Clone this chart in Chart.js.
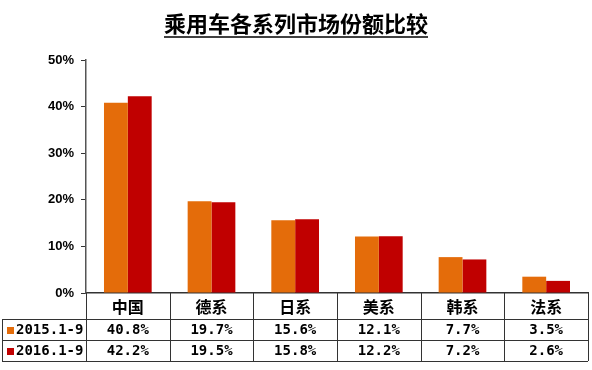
<!DOCTYPE html>
<html>
<head>
<meta charset="utf-8">
<script src="https://cdn.jsdelivr.net/npm/chart.js@4.4.1/dist/chart.umd.min.js"></script>
<style>
  body { margin: 0; background: #fff; }
</style>
</head>
<body>
<canvas id="shareChart" width="592" height="370"></canvas>
<script>
let chartTitle = "乘用车各系列市场份额比较";
let categories = ["中国", "德系", "日系", "美系", "韩系", "法系"];
let seriesNames = ["2015.1-9", "2016.1-9"];
let share2015 = [40.8, 19.7, 15.6, 12.1, 7.7, 3.5];
let share2016 = [42.2, 19.5, 15.8, 12.2, 7.2, 2.6];
let colors = ["#E46C0A", "#C00000"];

let lineColor = "#333333";

// title with underline
let titlePlugin = {
    id: "titleUnderline",
    afterDraw(chart) {
        let ctx = chart.ctx;
        ctx.save();
        ctx.font = "bold 22px 'Noto Sans CJK SC'";
        ctx.fillStyle = "#000";
        ctx.textAlign = "center";
        ctx.textBaseline = "middle";
        let cx = 296;
        ctx.fillText(chartTitle, cx, 24);
        let w = ctx.measureText(chartTitle).width;
        ctx.strokeStyle = "#000";
        ctx.lineWidth = 1.5;
        ctx.beginPath();
        ctx.moveTo(cx - w / 2, 37);
        ctx.lineTo(cx + w / 2, 37);
        ctx.stroke();
        ctx.restore();
    }
};

// data table under the plot
let tablePlugin = {
    id: "dataTable",
    afterDraw(chart) {
        let ctx = chart.ctx;
        let area = chart.chartArea;
        let xs = chart.scales.x;
        let n = categories.length;
        let colW = (area.right - area.left) / n;
        let y0 = area.bottom;
        let y1 = y0 + 26;
        let y2 = y1 + 21;
        let y3 = y2 + 21;
        let leftX = 2;

        ctx.save();
        ctx.strokeStyle = lineColor;
        ctx.lineWidth = 1;
        ctx.beginPath();
        [y1, y2, y3].forEach(function (y) {
            ctx.moveTo(leftX, y + 0.5);
            ctx.lineTo(area.right, y + 0.5);
        });
        ctx.moveTo(leftX + 0.5, y1);
        ctx.lineTo(leftX + 0.5, y3);
        for (let i = 0; i <= n; i++) {
            let x = Math.round(area.left + colW * i) + 0.5;
            ctx.moveTo(x, y0);
            ctx.lineTo(x, y3);
        }
        ctx.stroke();

        ctx.fillStyle = "#000";
        ctx.textAlign = "center";
        ctx.textBaseline = "middle";
        ctx.font = "bold 16px 'Noto Sans CJK SC'";
        categories.forEach(function (c, i) {
            ctx.fillText(c, xs.getPixelForValue(i), (y0 + y1) / 2 + 1);
        });

        let rows = [share2015, share2016];
        let rowY = [(y1 + y2) / 2 + 1, (y2 + y3) / 2 + 1];
        ctx.font = "bold 14px 'DejaVu Sans Mono', 'Noto Sans CJK SC'";
        rows.forEach(function (vals, r) {
            vals.forEach(function (v, i) {
                ctx.fillText(v.toFixed(1) + "%", xs.getPixelForValue(i), rowY[r]);
            });
            ctx.fillStyle = colors[r];
            ctx.fillRect(7, Math.round(rowY[r]) - 4, 7, 7);
            ctx.fillStyle = "#000";
            ctx.textAlign = "left";
            ctx.fillText(seriesNames[r], 16, rowY[r]);
            ctx.textAlign = "center";
        });
        ctx.restore();
    }
};

let ctx = document.getElementById("shareChart").getContext("2d");

let shareChart = new Chart(ctx, {
    type: "bar",
    data: {
        labels: categories,
        datasets: [
            { label: seriesNames[0], data: share2015, backgroundColor: colors[0] },
            { label: seriesNames[1], data: share2016, backgroundColor: colors[1] }
        ]
    },
    options: {
        responsive: false,
        animation: false,
        categoryPercentage: 0.57,
        barPercentage: 1.0,
        layout: { padding: { top: 60, bottom: 77, left: 0, right: 4 } },
        plugins: {
            legend: { display: false },
            title: { display: false },
            tooltip: { enabled: false }
        },
        scales: {
            x: {
                grid: { display: false },
                border: { display: true, color: lineColor, width: 1.5 },
                ticks: { display: false },
                afterFit(scale) { scale.height = 0; }
            },
            y: {
                min: 0,
                max: 50,
                ticks: {
                    stepSize: 10,
                    padding: 7,
                    color: "#000",
                    font: { family: "'Liberation Sans'", size: 13, weight: "bold" },
                    callback: function (v) { return v + "%"; }
                },
                grid: { drawOnChartArea: false, drawTicks: true, tickLength: 5, color: lineColor },
                border: { display: true, color: "#555555", width: 1.5 },
                afterFit(scale) { scale.width = 86; }
            }
        }
    },
    plugins: [titlePlugin, tablePlugin]
});
</script>
</body>
</html>
